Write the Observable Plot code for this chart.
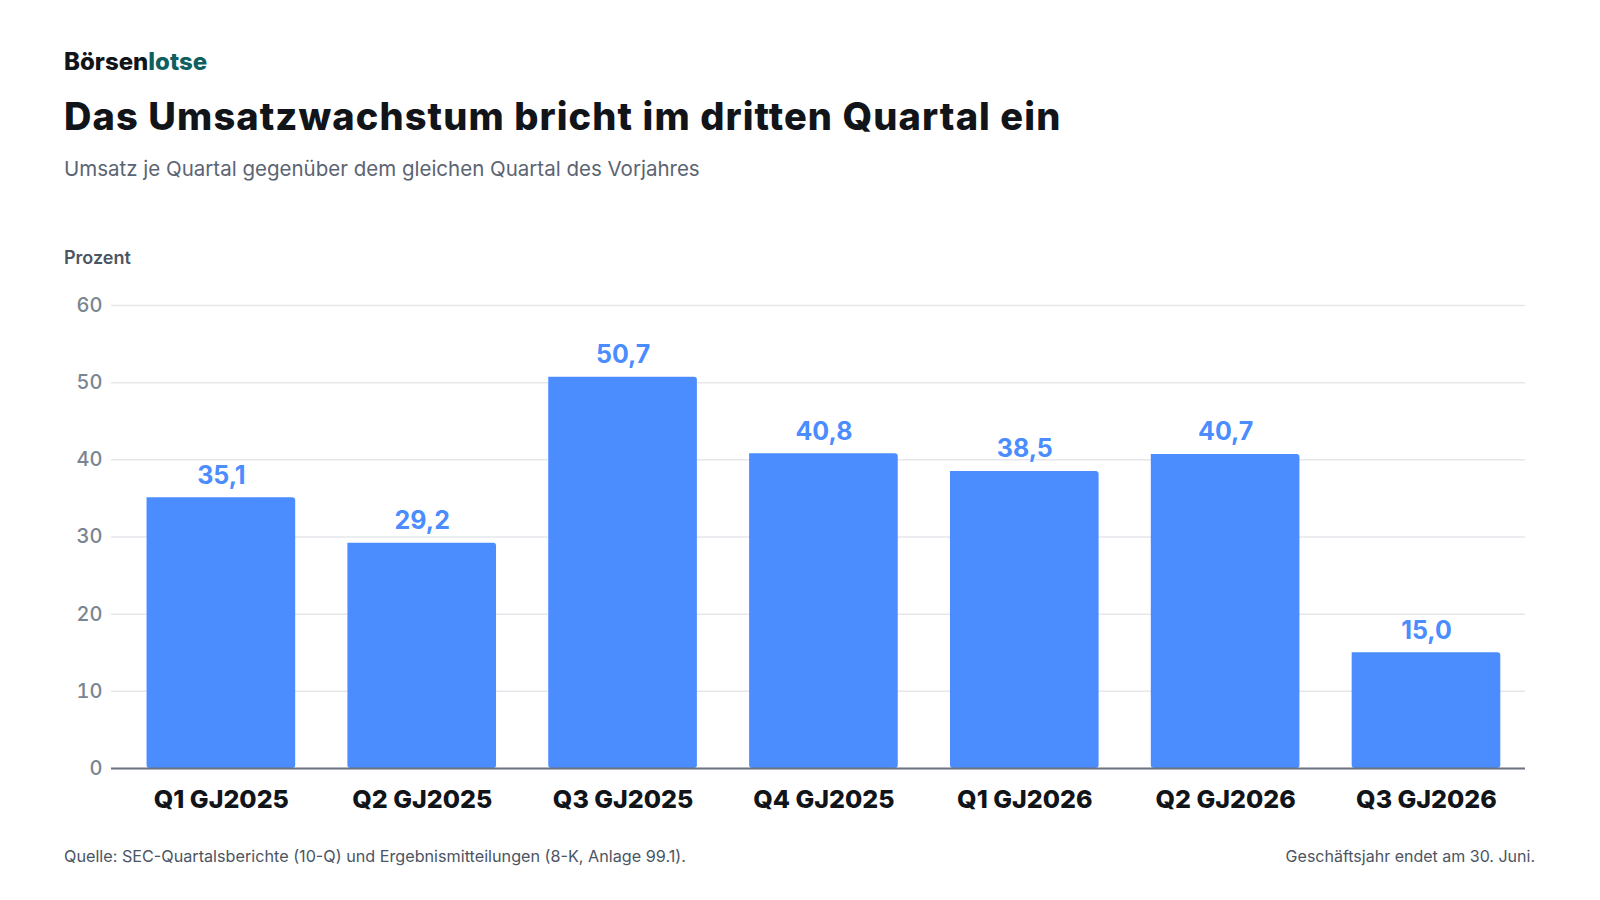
<!DOCTYPE html>
<html>
<head>
<meta charset="utf-8">
<script src="https://cdn.jsdelivr.net/npm/d3@7"></script>
<script src="https://cdn.jsdelivr.net/npm/@observablehq/plot@0.6"></script>
<style>
  html, body { margin: 0; padding: 0; background: #fff; }
  body { width: 1600px; height: 900px; position: relative; font-family: Inter, "Noto Sans", sans-serif; overflow: hidden; }
  .abs { position: absolute; line-height: 1; white-space: nowrap; }
  #brand { left: 64px; top: 50px; font-size: 24px; font-weight: 800; color: #111418; letter-spacing: 0px; }
  #brand span { color: #0f5f5f; }
  #title { left: 64px; top: 97px; font-size: 38px; font-weight: 800; color: #111418; letter-spacing: 1.1px; }
  #subtitle { left: 64px; top: 159px; font-size: 20.5px; font-weight: 400; color: #5b6472; }
  #ylabel { left: 64px; top: 249px; font-size: 18px; font-weight: 600; color: #4b5563; }
  #source { left: 64px; top: 848px; font-size: 16.2px; color: #4b5563; }
  #note { right: 65px; top: 848px; font-size: 16px; color: #4b5563; }
  #chart { position: absolute; left: 0; top: 285px; }
</style>
</head>
<body>
<div id="brand" class="abs">Börsen<span>lotse</span></div>
<div id="title" class="abs">Das Umsatzwachstum bricht im dritten Quartal ein</div>
<div id="subtitle" class="abs">Umsatz je Quartal gegenüber dem gleichen Quartal des Vorjahres</div>
<div id="ylabel" class="abs">Prozent</div>
<div id="chart"></div>
<div id="source" class="abs">Quelle: SEC-Quartalsberichte (10-Q) und Ergebnismitteilungen (8-K, Anlage 99.1).</div>
<div id="note" class="abs">Geschäftsjahr endet am 30. Juni.</div>
<script>
const quarters = ["Q1 GJ2025", "Q2 GJ2025", "Q3 GJ2025", "Q4 GJ2025", "Q1 GJ2026", "Q2 GJ2026", "Q3 GJ2026"];
const growth = [35.1, 29.2, 50.7, 40.8, 38.5, 40.7, 15.0];
const yTicks = [0, 10, 20, 30, 40, 50, 60];

const data = quarters.map((q, i) => ({quarter: q, value: growth[i]}));
const fmt = v => v.toFixed(1).replace(".", ",");
const barColor = "#4b8cff";

const chart = Plot.plot({
  width: 1600,
  height: 560,
  marginLeft: 111,
  marginRight: 75,
  marginTop: 20,
  marginBottom: 77,
  style: {fontFamily: "Inter, 'Noto Sans', sans-serif", background: "transparent", overflow: "visible"},
  x: {domain: quarters, paddingInner: 0.26, paddingOuter: 0.15, align: 0.59, round: false, label: null},
  y: {domain: [0, 60], label: null},
  marks: [
    Plot.gridY(yTicks, {stroke: "#e5e7eb", strokeOpacity: 1, strokeWidth: 1.5}),
    Plot.axisY(yTicks, {tickSize: 0, tickPadding: 9, fontSize: 20, fontWeight: 500, fill: "#7b8591", label: null}),
    Plot.axisX({tickSize: 0, tickPadding: 22, fontSize: 25, fontWeight: 800, fill: "#111418", label: null, style: {letterSpacing: "0.7px"}}),
    Plot.barY(data, {x: "quarter", y: "value", fill: barColor, ry2: 3, rx2: 3}),
    Plot.ruleY([0], {stroke: "#6b7280", strokeWidth: 2}),
    Plot.text(data, {x: "quarter", y: "value", text: d => fmt(d.value), lineAnchor: "bottom", dy: -14, fontSize: 25, fontWeight: 700, fill: barColor})
  ]
});
document.getElementById("chart").appendChild(chart);
</script>
</body>
</html>
